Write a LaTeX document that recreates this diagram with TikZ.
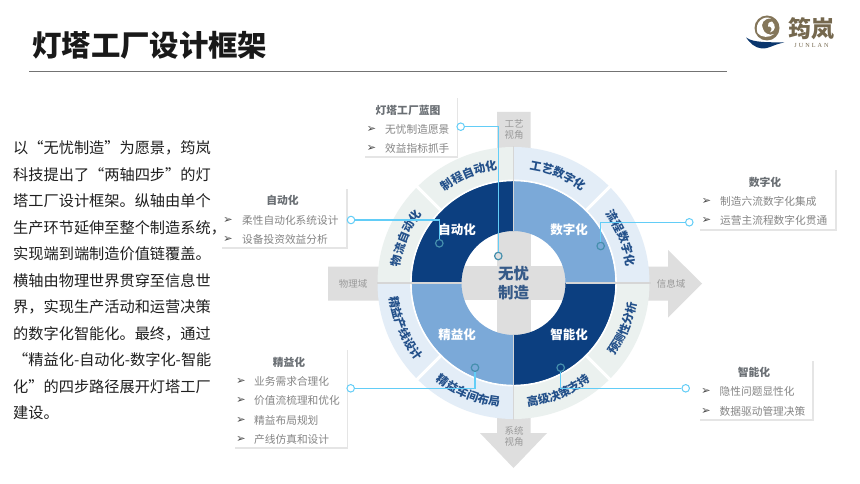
\documentclass[tikz,border=0pt]{standalone}
\usepackage{fontspec}
\usetikzlibrary{decorations.text,arrows.meta}
\setmainfont{Noto Sans CJK SC}
\newfontfamily\dejavu{DejaVu Sans}
\newfontfamily\logoser{Liberation Serif}
\definecolor{navy}{HTML}{0C3F80}
\definecolor{midblue}{HTML}{7BA9D8}
\definecolor{palebl}{HTML}{E3EDF7}
\definecolor{palegr}{HTML}{EBF1EF}
\definecolor{axisg}{HTML}{DEDEDE}
\definecolor{leader}{HTML}{62CDF7}
\definecolor{txtg}{HTML}{858585}
\definecolor{ttlg}{HTML}{6A6F74}
\definecolor{ringt}{HTML}{23508A}
\definecolor{logotan}{HTML}{84765A}
\definecolor{logotxt}{HTML}{75684E}
\tikzset{
  axisshape/.style={fill=axisg,draw=none},
  axistext/.style={text=black!40,font=\fontsize{9.5}{11}\selectfont,align=center,inner sep=0pt},
  cardshadow/.style={fill=black!10,draw=none},
  cardtitle/.style={text=ttlg,font=\fontsize{10.8}{12}\selectfont\bfseries,inner sep=0pt},
  cardline/.style={text=txtg,font=\fontsize{10.7}{12}\selectfont,inner sep=0pt,anchor=west},
  bullet/.style={text=black!70,font=\dejavu\fontsize{11.5}{12}\selectfont,inner sep=0pt},
  leaderline/.style={draw=leader,line width=1.2pt},
  freeend/.style={circle,draw=leader,fill=white,line width=1pt,minimum size=7.5pt,inner sep=0pt},
  ringend/.style={circle,draw=#1,line width=1.2pt,minimum size=7.5pt,inner sep=0pt},
  sectorlabel/.style={text=white,font=\fontsize{12.5}{14}\selectfont\bfseries,inner sep=0pt},
  arclabel/.style={decorate,decoration={text along path,text align=center,
     text={|\fontsize{11.6}{14}\selectfont\bfseries\color{ringt}|#1}}},
}
\newcommand{\cardbg}[4]{%
  \fill[cardshadow] (#1+1.5,#2+1.5) rectangle (#3+1.5,#4+1.5);
  \fill[white] (#1,#2) rectangle (#3,#4);}
\begin{document}
\begin{tikzpicture}[x=1pt,y=-1pt]
\useasboundingbox (0,0) rectangle (860,484);
\fill[white] (0,0) rectangle (860,484);
% title
\node[anchor=west,inner sep=0pt,font=\fontsize{29.4}{32}\selectfont\bfseries,text=black!90] (title) at (32,45.5) {灯塔工厂设计框架};
\coordinate (ruleL) at (29,71.5); \coordinate (ruleR) at (727,71.5);
\draw[black!55,line width=.8pt] (ruleL) -- (ruleR);
% logo
\fill[logotan] (767,28) circle (12.5);
\fill[white] (757.5,33) .. controls (754,22) and (764,15) .. (771,18.5) .. controls (764,18) and (760,24) .. (763,29) .. controls (764,33) and (769,36) .. (774,34) .. controls (770,38) and (761,38) .. (757.5,33) -- cycle;
\fill[white] (772,21.5) .. controls (776,25) and (776,31) .. (770,32.5) .. controls (773,29) and (771,26) .. (768,26.5) .. controls (767,24) and (769,22) .. (772,21.5) -- cycle;
\fill[navy!85!black] (746,37.5) .. controls (754,43) and (768,42) .. (784,42.5) .. controls (772,45) and (770,48.5) .. (762,48.5) .. controls (755,48) and (750,43) .. (746,37.5) -- cycle;
\node[inner sep=0pt,text=logotxt,font=\fontsize{23}{25}\selectfont\bfseries] (logocn) at (811.5,29) {筠岚};
\node[inner sep=0pt,text=logotxt,font=\logoser\fontsize{6.2}{7}\selectfont] (logoen) at (811.5,45) {J\,\,U\,\,N\,\,L\,\,A\,\,N};
% body text
\node[anchor=north west,inner sep=0pt,align=left,text=black!88,font=\fontsize{15.2}{26.5}\selectfont] (body) at (13,140.5) {以“无忧制造”为愿景，筠岚\\科技提出了“两轴四步”的灯\\塔工厂设计框架。纵轴由单个\\生产环节延伸至整个制造系统，\\实现端到端制造价值链覆盖。\\横轴由物理世界贯穿至信息世\\界，实现生产活动和运营决策\\的数字化智能化。最终，通过\\“精益化-自动化-数字化-智能\\化”的四步路径展开灯塔工厂\\建设。};
% axes
\fill[axisshape] (497,112) -- (530.5,112) -- (530.5,433) -- (547,433) -- (513.5,468) -- (480,433) -- (497,433) -- cycle;
\fill[axisshape] (328,266.5) -- (668,266.5) -- (668,250) -- (702,283.5) -- (668,317.5) -- (668,300.5) -- (328,300.5) -- cycle;
% rings
\begin{scope}[shift={(513.5,283)},y=1pt]
  \fill[white] (0,0) circle (52);
  \fill[axisg] (-17,-52) rectangle (17,52);
  \fill[axisg] (-52,-17) rectangle (52,17);
  % outer sectors
  \fill[palebl] (0,103) arc (90:0:103) -- (136,0) arc (0:90:136) -- cycle;
  \fill[palegr] (0,103) arc (90:180:103) -- (-136,0) arc (180:90:136) -- cycle;
  \fill[palebl] (0,-103) arc (270:180:103) -- (-136,0) arc (180:270:136) -- cycle;
  \fill[palegr] (0,-103) arc (270:360:103) -- (136,0) arc (0:-90:136) -- cycle;
  % mid sectors
  \fill[midblue] (0,52) arc (90:0:52) -- (102,0) arc (0:90:102) -- cycle;
  \fill[navy] (0,52) arc (90:180:52) -- (-102,0) arc (180:90:102) -- cycle;
  \fill[midblue] (0,-52) arc (270:180:52) -- (-102,0) arc (180:270:102) -- cycle;
  \fill[navy] (0,-52) arc (270:360:52) -- (102,0) arc (0:-90:102) -- cycle;
  % gaps
  \draw[white,line width=1.6pt] (0,0) circle (102.6);
  \foreach \a in {45,135,225,315} \draw[white,line width=3pt] (\a:102) -- (\a:137);
  \draw[black!16,line width=1.6pt] (0,52) -- (0,137);
  \draw[black!16,line width=1.6pt] (0,-52) -- (0,-137);
  \draw[black!16,line width=1.6pt] (52,0) -- (137,0);
  \draw[black!16,line width=1.6pt] (-52,0) -- (-137,0);
  % ring labels
  \path[arclabel={制程自动化}] (135:114.5) arc (135:90:114.5);
  \path[arclabel={物流自动化}] (180:114.5) arc (180:135:114.5);
  \path[arclabel={工艺数字化}] (90:114.5) arc (90:45:114.5);
  \path[arclabel={流程数字化}] (45:114.5) arc (45:0:114.5);
  \path[arclabel={精益产线设计}] (180:124.5) arc (180:225:124.5);
  \path[arclabel={精益车间布局}] (225:124.5) arc (225:270:124.5);
  \path[arclabel={高级决策支持}] (270:124.5) arc (270:315:124.5);
  \path[arclabel={预测性分析}] (315:124.5) arc (315:360:124.5);
\end{scope}
% sector labels
\node[sectorlabel] (auto) at (457,230) {自动化};
\node[sectorlabel] (digi) at (569,230) {数字化};
\node[sectorlabel] (lean) at (457,335) {精益化};
\node[sectorlabel] (smart) at (569,335) {智能化};
\node[inner sep=0pt,text=ringt!80!gray,font=\fontsize{15.5}{19.5}\selectfont\bfseries,align=center] (core) at (513.5,283) {无忧\\制造};
% axis labels
\node[axistext] (topax) at (514,129) {工艺\\视角};
\node[axistext] (botax) at (514,436.5) {系统\\视角};
\node[axistext] (leftax) at (353,283.5) {物理域};
\node[axistext] (rightax) at (671,283.5) {信息域};
% cards
\cardbg{363}{97}{456.5}{156.5}
\cardbg{220}{188}{346}{247}
\cardbg{233}{348}{346.5}{447}
\cardbg{698}{169}{835}{229}
\cardbg{698}{359}{812}{419}
% blueprint card
\node[cardtitle] (bp) at (408,110) {灯塔工厂蓝图};
\node[bullet] (bpa) at (371.5,129) {➢}; \node[cardline] (bp1) at (385,129) {无忧制造愿景};
\node[bullet] (bpb) at (371.5,148) {➢}; \node[cardline] (bp2) at (385,148) {效益指标抓手};
% auto card
\node[cardtitle] (ac) at (282.5,200.5) {自动化};
\node[bullet] (aca) at (228,220) {➢}; \node[cardline] (ac1) at (242,220) {柔性自动化系统设计};
\node[bullet] (acb) at (228,239) {➢}; \node[cardline] (ac2) at (242,239) {设备投资效益分析};
% lean card
\node[cardtitle] (lc) at (289,362) {精益化};
\node[bullet] (lca) at (241,381) {➢}; \node[cardline] (lc1) at (254,381) {业务需求合理化};
\node[bullet] (lcb) at (241,400) {➢}; \node[cardline] (lc2) at (254,400) {价值流梳理和优化};
\node[bullet] (lcc) at (241,420) {➢}; \node[cardline] (lc3) at (254,420) {精益布局规划};
\node[bullet] (lcd) at (241,439) {➢}; \node[cardline] (lc4) at (254,439) {产线仿真和设计};
% digital card
\node[cardtitle] (dc) at (765,182) {数字化};
\node[bullet] (dca) at (706.5,201) {➢}; \node[cardline] (dc1) at (720,201) {制造六流数字化集成};
\node[bullet] (dcb) at (706.5,220.5) {➢}; \node[cardline] (dc2) at (720,220.5) {运营主流程数字化贯通};
% smart card
\node[cardtitle] (sc) at (754,372) {智能化};
\node[bullet] (sca) at (706,391.5) {➢}; \node[cardline] (sc1) at (719.5,391.5) {隐性问题显性化};
\node[bullet] (scb) at (706,411) {➢}; \node[cardline] (sc2) at (719.5,411) {数据驱动管理决策};
% leaders
\node[freeend] (f1) at (460.7,126.7) {};
\node[freeend] (f2) at (351,220) {};
\node[freeend] (f3) at (689.3,222.3) {};
\node[freeend] (f4) at (350.7,388.3) {};
\node[freeend] (f5) at (685.7,388.3) {};
\node[ringend={leader!70!black},fill=black!12] (r1) at (498.3,256) {};
\node[ringend={leader!70!black},fill=navy] (r2) at (439.3,243.3) {};
\node[ringend={leader!70!black},fill=midblue] (r3) at (600.7,246) {};
\node[ringend={leader!70!black},fill=midblue] (r4) at (475,367.7) {};
\node[ringend={leader!70!black},fill=navy] (r5) at (560.7,367.7) {};
\draw[leaderline] (f1) -| (r1);
\draw[leaderline] (f2) -| (r2);
\draw[leaderline] (f3) -| (r3);
\draw[leaderline] (f4) -| (r4);
\draw[leaderline] (f5) -| (r5);
\end{tikzpicture}
\end{document}
